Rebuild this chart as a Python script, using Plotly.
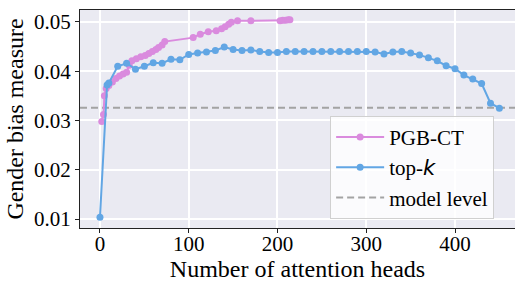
import plotly.graph_objects as go

# top-k series
topk_x = [0, 8, 10, 20, 30, 40, 50, 60, 70, 80, 90, 100, 110, 120, 130, 140, 150, 160, 170, 180,
          190, 200, 210, 220, 230, 240, 250, 260, 270, 280, 290, 300, 310, 320, 330, 340, 350,
          360, 370, 380, 390, 400, 410, 420, 430, 440, 450]
topk_y = [0.0104, 0.0372, 0.0376, 0.0410, 0.0416, 0.0404, 0.0410, 0.0417, 0.0416, 0.0424, 0.0423,
          0.0434, 0.0437, 0.0439, 0.0442, 0.0449, 0.0444, 0.0442, 0.0443, 0.0440, 0.0438, 0.0438,
          0.0440, 0.0440, 0.0440, 0.0440, 0.0440, 0.0440, 0.0440, 0.0440, 0.0440, 0.0440, 0.0439,
          0.0435, 0.0439, 0.0440, 0.0437, 0.0433, 0.0427, 0.0421, 0.0411, 0.0405, 0.0392, 0.0384,
          0.0375, 0.0335, 0.0325]

# PGB-CT series
pgb_x = [2, 4, 5, 7, 10, 14, 18, 22, 26, 30, 33, 36, 41, 46, 51, 55, 59, 63, 66, 70, 73,
         105, 113, 122, 131, 137, 141, 145, 148, 155, 170, 203, 206, 209, 212, 214]
pgb_y = [0.0298, 0.0312, 0.0350, 0.0365, 0.0371, 0.0378, 0.0385, 0.0390, 0.0394, 0.0398, 0.0412,
         0.0421, 0.0425, 0.0429, 0.0432, 0.0436, 0.0440, 0.0444, 0.0448, 0.0453, 0.0460,
         0.0468, 0.0475, 0.0480, 0.0482, 0.0486, 0.0490, 0.0495, 0.0499, 0.0502, 0.0502,
         0.0502, 0.0503, 0.0503, 0.0504, 0.0504]

model_level = 0.0326

x_ticks = [0, 100, 200, 300, 400]
y_ticks = [0.01, 0.02, 0.03, 0.04, 0.05]
y_tick_labels = ["0.01", "0.02", "0.03", "0.04", "0.05"]

PINK = "#DA8BDE"
BLUE = "#62A6E4"
GRAY = "#A3A3A3"
FONT = "Liberation Serif, Times New Roman, serif"

fig = go.Figure()
fig.add_trace(go.Scatter(
    x=pgb_x, y=pgb_y, mode="lines+markers", name="PGB-CT", legendgroup="a",
    line=dict(color=PINK, width=2), marker=dict(color=PINK, size=7),
))
fig.add_trace(go.Scatter(
    x=topk_x, y=topk_y, mode="lines+markers",
    name='top-<span style="font-family:DejaVu Sans"><i>k</i></span>', legendgroup="b",
    line=dict(color=BLUE, width=2), marker=dict(color=BLUE, size=7),
))
fig.add_hline(y=model_level, line=dict(color=GRAY, width=2, dash="7px,4px"),
              layer="below", showlegend=True, name="model level", legendgroup="c")

fig.update_layout(
    width=515, height=282,
    margin=dict(l=80, r=0, t=10, b=54),
    paper_bgcolor="white", plot_bgcolor="#EAEAF2",
    font=dict(family=FONT, size=21, color="black"),
    showlegend=True,
    legend=dict(
        x=0.575, y=0.515, xanchor="left", yanchor="top",
        bgcolor="rgba(255,255,255,0.8)", bordercolor="#D0D0D0", borderwidth=1,
        font=dict(family=FONT, size=21), itemwidth=48, tracegroupgap=0,
    ),
    xaxis=dict(
        range=[-22.5, 467.6], tickvals=x_ticks, showgrid=True, gridcolor="white", gridwidth=2,
        zeroline=False, showline=True, linecolor="#222", linewidth=1.2, mirror=True,
        ticks="outside", ticklen=4, tickcolor="#222", tickfont=dict(family=FONT, size=21),
        ticklabelstandoff=-7,
        title=dict(text="Number of attention heads", font=dict(family=FONT, size=24), standoff=2),
    ),
    yaxis=dict(
        range=[0.0082, 0.0524], tickvals=y_ticks, ticktext=y_tick_labels, showgrid=True,
        gridcolor="white", gridwidth=2, zeroline=False, showline=True, linecolor="#222",
        linewidth=1.2, ticks="outside", ticklen=4, tickcolor="#222",
        tickfont=dict(family=FONT, size=21),
        title=dict(text="Gender bias measure", font=dict(family=FONT, size=24), standoff=3),
    ),
)

fig.write_html("out.html", config={"displayModeBar": False},
               post_script="document.body.style.margin='0';")
